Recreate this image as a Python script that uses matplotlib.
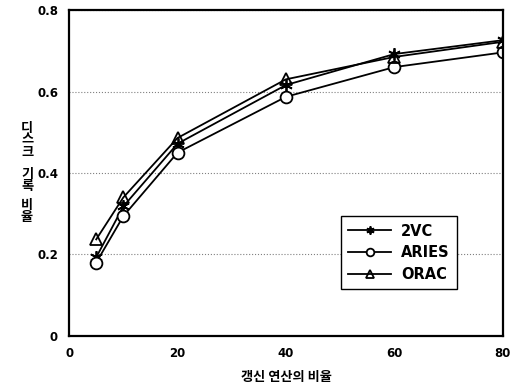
import matplotlib
matplotlib.use('Agg')
import matplotlib.pyplot as plt

# update ratio (%) on x, disk write ratio on y
x_vals = [5, 10, 20, 40, 60, 80]
vc2    = [0.193, 0.318, 0.472, 0.616, 0.692, 0.726]
aries  = [0.180, 0.294, 0.450, 0.587, 0.660, 0.696]
orac   = [0.237, 0.340, 0.486, 0.630, 0.685, 0.722]
labels = ['2VC', 'ARIES', 'ORAC']
ylabel_words = ['디스크', '기록', '비율']

KFONT = ['Noto Sans CJK KR', 'DejaVu Sans']

fig = plt.figure(figsize=(5.12, 3.87), dpi=100)
ax = fig.add_axes([0.135, 0.132, 0.847, 0.842])

ax.plot(x_vals, vc2, color='black', lw=1.3, marker=(6, 2, 0), ms=9, mew=1.3, label=labels[0])
ax.plot(x_vals, aries, color='black', lw=1.3, marker='o', ms=8.5, mfc='white', mew=1.3, label=labels[1])
ax.plot(x_vals, orac, color='black', lw=1.3, marker='^', ms=9, mfc='none', mew=1.3, label=labels[2])

ax.set_xlim(0, 80)
ax.set_ylim(0, 0.8)
ax.set_xticks([0, 20, 40, 60, 80])
ax.set_yticks([0, 0.2, 0.4, 0.6, 0.8])
ax.set_yticklabels(['0', '0.2', '0.4', '0.6', '0.8'])
ax.tick_params(length=0, pad=8, labelsize=8.5)
for lab in ax.get_xticklabels() + ax.get_yticklabels():
    lab.set_fontweight('bold')
ax.yaxis.grid(True, ls=':', color='gray', lw=0.8)
for s in ax.spines.values():
    s.set_linewidth(1.6)

leg = ax.legend(loc='lower right', bbox_to_anchor=(0.894, 0.144), borderaxespad=0,
                fancybox=False, edgecolor='black', framealpha=1, handlelength=2.9,
                markerscale=0.65, borderpad=0.5, labelspacing=0.45, handletextpad=0.7,
                prop={'weight': 'bold', 'size': 10.5})
leg.get_frame().set_linewidth(1.0)

ax.set_xlabel('갱신 연산의 비율', family=KFONT, fontweight='bold', fontsize=9.5, labelpad=7)

# vertical label: each word stacked one character per row
word_centers = [140, 180, 211]
for word, yp in zip(ylabel_words, word_centers):
    fig.text(27 / 512, 1 - yp / 387, '\n'.join(word), family=KFONT, fontweight='bold',
             fontsize=9.5, ha='center', va='center', linespacing=0.85)

fig.savefig('out.png', dpi=100)
